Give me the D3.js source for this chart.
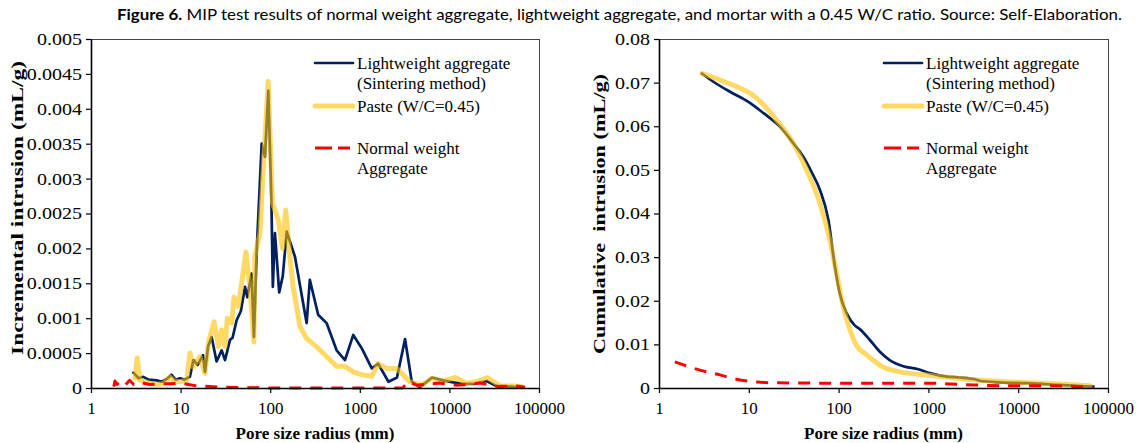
<!DOCTYPE html>
<html>
<head>
<meta charset="utf-8">
<script src="https://cdn.jsdelivr.net/npm/d3@7"></script>
<style>
  body { margin: 0; background: #fff; }
  svg { display: block; }
</style>
</head>
<body>
<svg id="chart" width="1141" height="443"></svg>
<script>
// pore radius ticks (log axis)
const xTicks = [1, 10, 100, 1000, 10000, 100000];
const xTickLabels = ["1", "10", "100", "1000", "10000", "100000"];

const incTicks = [0, 0.0005, 0.001, 0.0015, 0.002, 0.0025, 0.003, 0.0035, 0.004, 0.0045, 0.005];
const incTickLabels = ["0", "0.0005", "0.001", "0.0015", "0.002", "0.0025", "0.003", "0.0035", "0.004", "0.0045", "0.005"];
const cumTicks = [0, 0.01, 0.02, 0.03, 0.04, 0.05, 0.06, 0.07, 0.08];
const cumTickLabels = ["0", "0.01", "0.02", "0.03", "0.04", "0.05", "0.06", "0.07", "0.08"];

const seriesNames = ["Lightweight aggregate|(Sintering method)", "Paste (W/C=0.45)", "Normal weight|Aggregate"];

// incremental intrusion [radius, mL/g]
const incLightweight = [[2.97,0.00022],[3.4,0.00014],[3.83,0.00016],[4.4,0.00012],[5.4,0.00011],[6.2,0.00009],[7.0,0.00013],[7.9,0.00019],[8.8,0.00012],[9.9,0.00014],[11,0.00012],[12.7,0.00016],[13.9,0.0004],[15.5,0.00033],[17.8,0.00047],[18.7,0.00023],[20.3,0.0006],[22.2,0.00073],[25.2,0.00038],[28.7,0.00054],[31.3,0.0004],[35.6,0.00069],[38,0.00072],[42.2,0.00097],[47,0.0011],[52.4,0.00145],[55.5,0.0013],[62,0.00164],[65.8,0.00073],[70.6,0.00195],[80.3,0.0035],[87.4,0.00331],[95.2,0.00426],[103,0.00272],[107,0.00145],[113,0.00222],[126,0.00137],[138,0.0016],[153,0.00224],[189,0.00188],[255,0.00093],[277,0.00155],[343,0.00105],[426,0.00093],[551,0.00054],[683,0.0004],[845,0.00076],[1050,0.00057],[1360,0.00028],[1600,0.00035],[2090,0.00009],[2600,0.00015],[3200,0.0007],[3800,0.00009],[4700,0.00001],[6400,0.00015],[8500,0.00011],[11000,0.00008],[14000,0.00006],[19000,0.00006],[26000,0.0001],[33000,0.00003],[47000,0.00002],[66000,0.00001]];
const incPaste = [[3.1,0.00014],[3.28,0.00043],[3.52,0.00011],[4.55,0.00007],[5.5,0.00005],[6.4,0.00006],[7.6,0.00016],[8.5,0.0001],[9.8,0.00009],[11.7,0.00011],[12.7,0.0005],[13.8,0.0003],[16.4,0.00045],[18.7,0.00021],[20.4,0.00064],[23.6,0.00095],[26.4,0.00059],[28.7,0.00083],[31.3,0.00059],[33.2,0.001],[37.2,0.00093],[39.4,0.0013],[44,0.00117],[48,0.0015],[53.6,0.00195],[59.3,0.00145],[65.8,0.00066],[67.4,0.00188],[76.7,0.00222],[85,0.00331],[95,0.00439],[106,0.00265],[123,0.00241],[137,0.002],[149,0.00255],[163,0.00198],[180,0.00145],[215,0.00088],[255,0.00071],[330,0.00059],[426,0.00045],[551,0.00031],[683,0.00031],[845,0.00023],[1050,0.00019],[1360,0.00017],[1600,0.00035],[1980,0.00028],[2600,0.00028],[3600,0.00009],[4900,0.00004],[6400,0.00014],[8500,0.0001],[11700,0.00015],[15600,0.00007],[20000,0.00009],[26600,0.00015],[36500,0.00003],[51000,0.00003],[64000,0.00002]];
const incNormal = [[1.8,0.00002],[1.85,0.0001],[1.95,0.00005],[2.1,0.00009],[2.4,0.00004],[2.7,0.00011],[3.0,0.00005],[3.5,0.00008],[4.5,0.00005],[6,0.00006],[8,0.00006],[10,0.00007],[15,0.00003],[30,0.00001],[100,0],[1000,0],[3000,0],[3500,0.00009],[4300,0.00004],[7700,0.00007],[12000,0.00004],[22000,0.00007],[36000,0.00002],[56000,0.00003],[70000,0.00001]];

// cumulative intrusion [radius, mL/g]
const cumLightweight = [[3,0.0721],[4.03,0.0702],[6.18,0.0679],[9.9,0.0656],[14.6,0.063],[22.2,0.0599],[31.3,0.0561],[40.5,0.053],[50,0.0495],[62,0.0454],[77,0.0385],[91,0.0278],[103,0.0217],[123,0.0171],[152,0.0143],[172,0.0135],[223,0.011],[288,0.0083],[370,0.0064],[525,0.005],[773,0.0043],[1040,0.0034],[1600,0.0026],[2240,0.0024],[3300,0.002],[3800,0.0016],[6300,0.0013],[12500,0.0011],[29000,0.0007],[69000,0.0003]];
const cumPaste = [[3,0.0721],[4.77,0.0706],[7.3,0.0691],[11.7,0.0668],[20.4,0.0614],[31.3,0.0561],[44,0.05],[62,0.0423],[80,0.0339],[95,0.0263],[113,0.0186],[134,0.0133],[159,0.0097],[205,0.0076],[265,0.0058],[300,0.005],[480,0.0037],[955,0.003],[2240,0.0022],[5300,0.0016],[12500,0.0012],[29000,0.0009],[63000,0.0005]];
const cumNormal = [[1.5,0.006],[2.86,0.0041],[4.77,0.003],[7.3,0.002],[12.3,0.0014],[18.7,0.0012],[100,0.0011],[1000,0.0011],[3150,0.0007],[7500,0.0005],[26500,0.0005],[69000,0.0001]];

const svg = d3.select("#chart");
const serif = "'Liberation Serif', 'Times New Roman', serif";

const styles = [
  { stroke: "#002060", width: 2.7, opacity: 1, dash: null },
  { stroke: "#FFC000", width: 5, opacity: 0.6, dash: null },
  { stroke: "#FF0000", width: 3, opacity: 1, dash: "12,9" }
];

svg.append("rect").attr("width", 1141).attr("height", 443).attr("fill", "#fff");

// title
const title = svg.append("text")
  .attr("x", 117)
  .attr("y", 20)
  .attr("font-family", "Lato, 'Open Sans', sans-serif")
  .attr("font-size", "15px")
  .attr("fill", "#000")
  .attr("textLength", 1005)
  .attr("lengthAdjust", "spacingAndGlyphs");
title.append("tspan").attr("font-weight", "bold").text("Figure 6.");
title.append("tspan").text(" MIP test results of normal weight aggregate, lightweight aggregate, and mortar with a 0.45 W/C ratio. Source: Self-Elaboration.");

const panels = [
  {
    left: 91, right: 539, top: 39, bottom: 388,
    yMax: 0.005, yTicks: incTicks, yLabels: incTickLabels,
    yTitle: "Incremental intrusion (mL/g)", yTitleX: 23, yTitleY: 208, yTitleLen: 294,
    series: [incLightweight, incPaste, incNormal],
    legendX: 315, curve: d3.curveLinear
  },
  {
    left: 659, right: 1108, top: 39, bottom: 388,
    yMax: 0.08, yTicks: cumTicks, yLabels: cumTickLabels,
    yTitle: "Cumulative  intrusion (mL/g)", yTitleX: 605, yTitleY: 214, yTitleLen: 280,
    series: [cumLightweight, cumPaste, cumNormal],
    legendX: 884, curve: d3.curveMonotoneX
  }
];

panels.forEach(p => {
  const x = d3.scaleLog().domain([1, 100000]).range([p.left, p.right]);
  const y = d3.scaleLinear().domain([0, p.yMax]).range([p.bottom, p.top]);

  svg.append("rect")
    .attr("x", p.left + 0.5)
    .attr("y", p.top + 0.5)
    .attr("width", p.right - p.left)
    .attr("height", p.bottom - p.top)
    .attr("fill", "none")
    .attr("stroke", "#444")
    .attr("stroke-width", 1);

  const line = d3.line()
    .x(d => x(d[0]))
    .y(d => y(d[1]))
    .curve(p.curve);

  p.series.forEach((s, i) => {
    const st = styles[i];
    svg.append("path")
      .datum(s)
      .attr("d", line)
      .attr("fill", "none")
      .attr("stroke", st.stroke)
      .attr("stroke-width", st.width)
      .attr("stroke-opacity", st.opacity)
      .attr("stroke-linejoin", "round")
      .attr("stroke-linecap", st.dash ? "butt" : "round")
      .attr("stroke-dasharray", st.dash);
  });

  const xAxis = svg.append("g")
    .attr("transform", `translate(0,${p.bottom})`)
    .call(d3.axisBottom(x)
      .tickValues(xTicks)
      .tickFormat((d, i) => xTickLabels[i])
      .tickSize(5)
      .tickSizeOuter(0)
      .tickPadding(9));

  const yAxis = svg.append("g")
    .attr("transform", `translate(${p.left},0)`)
    .call(d3.axisLeft(y)
      .tickValues(p.yTicks)
      .tickFormat((d, i) => p.yLabels[i])
      .tickSize(5)
      .tickSizeOuter(0)
      .tickPadding(4));

  [xAxis, yAxis].forEach(g => {
    g.attr("font-family", serif).attr("font-size", 17);
    g.select(".domain").attr("stroke", "#000").attr("stroke-width", 1.6);
    g.selectAll(".tick line").attr("stroke", "#000").attr("stroke-width", 1.2);
    g.selectAll("text")
      .attr("font-family", serif)
      .attr("font-size", "17px")
      .attr("fill", "#000");
  });

  // the y tick labels in the original are drawn a bit wider than normal
  yAxis.selectAll(".tick text").each(function () {
    const w = this.getComputedTextLength();
    d3.select(this)
      .attr("textLength", w * 1.18)
      .attr("lengthAdjust", "spacingAndGlyphs");
  });

  svg.append("text")
    .attr("x", (p.left + p.right) / 2)
    .attr("y", 439)
    .attr("text-anchor", "middle")
    .attr("font-family", serif)
    .attr("font-size", "17px")
    .attr("font-weight", "bold")
    .text("Pore size radius (mm)");

  svg.append("text")
    .attr("transform", `translate(${p.yTitleX},${p.yTitleY}) rotate(-90)`)
    .attr("text-anchor", "middle")
    .attr("font-family", serif)
    .attr("font-size", "17px")
    .attr("font-weight", "bold")
    .attr("textLength", p.yTitleLen)
    .attr("lengthAdjust", "spacingAndGlyphs")
    .style("white-space", "pre")
    .text(p.yTitle);

  // legend
  const legendRows = [63, 106, 148];
  seriesNames.forEach((name, i) => {
    const st = styles[i];
    const ly = legendRows[i];
    svg.append("line")
      .attr("x1", p.legendX)
      .attr("x2", p.legendX + 38)
      .attr("y1", ly)
      .attr("y2", ly)
      .attr("stroke", st.stroke)
      .attr("stroke-width", st.width)
      .attr("stroke-opacity", st.opacity)
      .attr("stroke-linecap", st.dash ? "butt" : "round")
      .attr("stroke-dasharray", st.dash ? "17,6,12" : null);

    name.split("|").forEach((part, j) => {
      svg.append("text")
        .attr("x", p.legendX + 42)
        .attr("y", ly + j * 20 + 6)
        .attr("font-family", serif)
        .attr("font-size", "17px")
        .attr("fill", "#000")
        .text(part);
    });
  });
});
</script>
</body>
</html>
